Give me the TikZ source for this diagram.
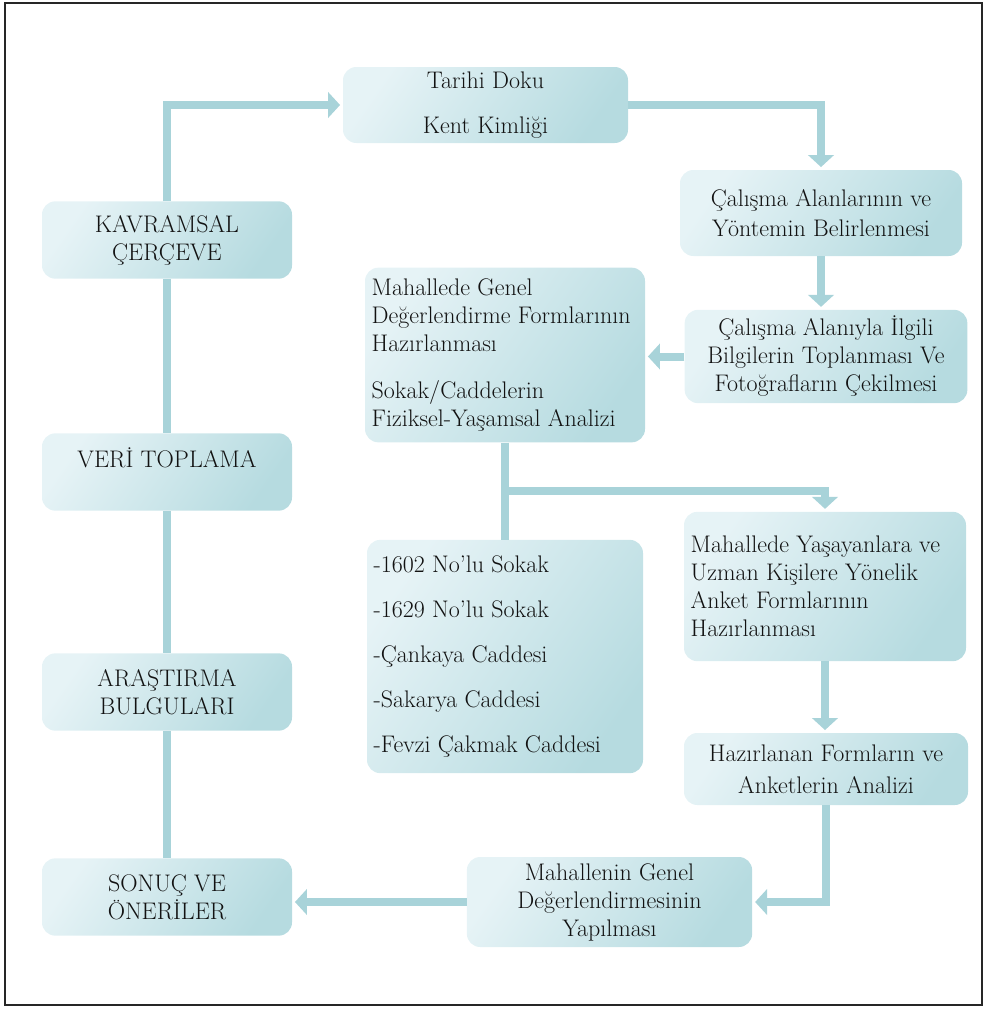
\documentclass[tikz,border=0pt]{standalone}
\usepackage{fontspec}
\usetikzlibrary{arrows.meta}
\definecolor{boxLeft}{HTML}{E6F3F6}
\definecolor{boxRight}{HTML}{B6DBE0}
\definecolor{lineBlue}{HTML}{A8D3D9}
\definecolor{textDark}{HTML}{121212}
\begin{document}
\begin{tikzpicture}
[x=0.75pt,y=-0.75pt,
  boxDecorate/.style={shape=rectangle,rounded corners=10pt,left color=boxLeft,right color=boxRight,
    shading angle=55,text=textDark,font=\fontsize{18}{21}\selectfont,inner xsep=5pt,inner ysep=2pt},
  leftBox/.style={boxDecorate,minimum width=187.5pt,minimum height=58pt,align=center},
  lineDecorate/.style={-,draw=lineBlue,line width=6pt},
  arrowDecorate/.style={lineDecorate,-{Triangle[width=19pt,length=9pt]},shorten >=2pt}]
\useasboundingbox (0,0) rectangle (987,1010);
\draw[black!85,line width=0.9pt] (5,3) rectangle (982,1005);
%% left column
\foreach \nodename/\y/\txt in {
  kavram/240/{KAVRAMSAL\\ÇERÇEVE}, veri/472/{VERİ TOPLAMA\\\mbox{}},
  arastirma/692/{ARAŞTIRMA\\BULGULARI}, sonuc/897/{SONUÇ VE\\ÖNERİLER}}
{
  \node (\nodename) at (167,\y) [leftBox] {\txt};
}
%% steps
\node (tarihi) at (485.5,105) [boxDecorate,minimum width=213.75pt,minimum height=57pt,align=center]
  {Tarihi Doku\\[12.75pt]Kent Kimliği};
\node (alan) at (821,213) [boxDecorate,minimum width=211.5pt,minimum height=64.5pt,align=center]
  {Çalışma Alanlarının ve\\[1.5pt]Yöntemin Belirlenmesi};
\node (bilgi) at (826,356.5) [boxDecorate,minimum width=212pt,minimum height=70pt,align=center]
  {Çalışma Alanıyla İlgili\\Bilgilerin Toplanması Ve\\Fotoğrafların Çekilmesi};
\node (genel) at (505,355) [boxDecorate,minimum height=131pt,text width=200pt,align=flush left]
  {Mahallede Genel\\Değerlendirme Formlarının\\Hazırlanması\\[14pt]Sokak/Caddelerin\\Fiziksel-Yaşamsal Analizi};
\node (sokak) at (505,656.5) [boxDecorate,minimum height=175pt,text width=197pt,align=flush left]
  {-1602 No’lu Sokak\\[12.75pt]-1629 No’lu Sokak\\[12.75pt]-Çankaya Caddesi\\[12.75pt]-Sakarya Caddesi\\[12.75pt]-Fevzi Çakmak Caddesi};
\node (anket) at (825,586.5) [boxDecorate,minimum height=112pt,text width=201.5pt,align=flush left]
  {Mahallede Yaşayanlara ve\\Uzman Kişilere Yönelik\\Anket Formlarının\\Hazırlanması};
\node (analiz) at (826,769) [boxDecorate,minimum width=213pt,minimum height=54pt,align=center]
  {Hazırlanan Formların ve\\[3pt]Anketlerin Analizi};
\node (deger) at (609.5,902) [boxDecorate,minimum width=214pt,minimum height=67.5pt,align=center]
  {Mahallenin Genel\\Değerlendirmesinin\\Yapılması};
\coordinate (fork) at (genel.south |- 0,491);
%% connectors
\path \foreach \startnode/\endnode in {kavram/veri, veri/arastirma, arastirma/sonuc}
{
  (\startnode) edge[lineDecorate] (\endnode)
};
\draw[arrowDecorate] (kavram.north) |- (tarihi.west);
\draw[arrowDecorate] (tarihi.east) -| (alan.north);
\draw[arrowDecorate] (alan.south) -- (alan.south |- bilgi.north);
\draw[arrowDecorate] (bilgi.west) -- (genel.east |- bilgi.west);
\draw[lineDecorate] (genel.south) -- (sokak.north);
\draw[arrowDecorate] (fork) -| (anket.north);
\draw[arrowDecorate] (anket.south) -- (anket.south |- analiz.north);
\draw[arrowDecorate] (analiz.south) |- (deger.east);
\draw[arrowDecorate] (deger.west) -- (sonuc.east |- deger.west);
\end{tikzpicture}
\end{document}
